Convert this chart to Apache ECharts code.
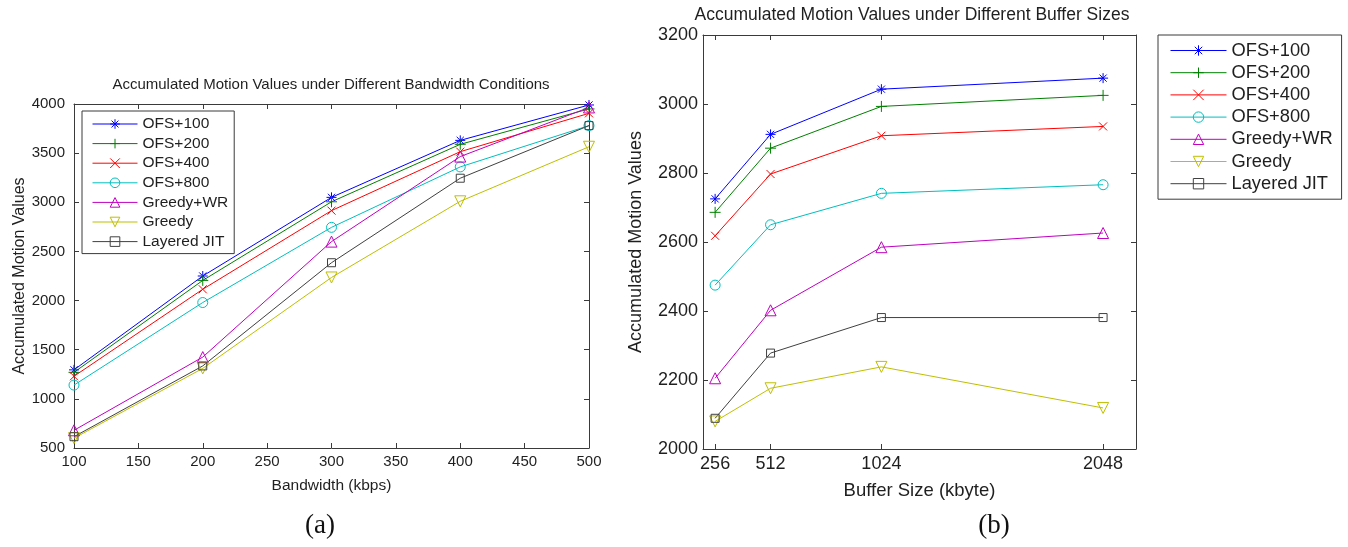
<!DOCTYPE html>
<html>
<head>
<meta charset="utf-8">
<script src="https://cdn.jsdelivr.net/npm/echarts@6/dist/echarts.min.js"></script>
<style>
  html, body { margin: 0; padding: 0; background: #ffffff; }
  #chart { width: 1348px; height: 547px; }
</style>
</head>
<body>
<div id="chart"></div>
<script>
// ---- data ----------------------------------------------------------------
const seriesNames = ['OFS+100', 'OFS+200', 'OFS+400', 'OFS+800', 'Greedy+WR', 'Greedy', 'Layered JIT'];

// (a) accumulated motion values vs. bandwidth (kbps)
const bandwidth = [100, 200, 300, 400, 500];
const bwOFS100    = [1295, 2250, 3050, 3630, 3990];
const bwOFS200    = [1270, 2205, 3005, 3590, 3950];
const bwOFS400    = [1230, 2115, 2915, 3515, 3905];
const bwOFS800    = [1140, 1980, 2745, 3360, 3780];
const bwGreedyWR  = [680, 1425, 2600, 3465, 3965];
const bwGreedy    = [600, 1310, 2235, 3010, 3565];
const bwLayered   = [615, 1335, 2385, 3245, 3780];

// (b) accumulated motion values vs. buffer size (kbyte)
const bufferSizes = [256, 512, 1024, 2048];
const bufOFS100   = [2725, 2912, 3043, 3075];
const bufOFS200   = [2686, 2872, 2993, 3025];
const bufOFS400   = [2618, 2797, 2908, 2935];
const bufOFS800   = [2475, 2650, 2741, 2766];
const bufGreedyWR = [2205, 2402, 2585, 2626];
const bufGreedy   = [2080, 2176, 2238, 2119];
const bufLayered  = [2089, 2278, 2381, 2381];

const bufferTicks = [256, 512, 1024, 2048];

// ---- styling -------------------------------------------------------------
const FONT = '"Liberation Sans", Arial, Helvetica, sans-serif';
const INK = '#1f1f1f';
const FRAME = '#3a3a3a';

const colors = ['#0000ff', '#008000', '#ff0000', '#00bfbf', '#bf00bf', '#bfbf00', '#404040'];
const symbols = [
  'path://M0,-6L0,6M-6,0L6,0M-4.3,-4.3L4.3,4.3M-4.3,4.3L4.3,-4.3', // asterisk
  'path://M0,-6L0,6M-6,0L6,0',                                       // plus
  'path://M-5,-5L5,5M-5,5L5,-5',                                     // cross
  'circle',
  'triangle',
  'path://M-5,-4.33L5,-4.33L0,4.33Z',                                // downward triangle
  'rect'
];
const symbolSizes = [10, 11, 8, 10, 11, 11, 8];

const bwValues = [bwOFS100, bwOFS200, bwOFS400, bwOFS800, bwGreedyWR, bwGreedy, bwLayered];
const bufValues = [bufOFS100, bufOFS200, bufOFS400, bufOFS800, bufGreedyWR, bufGreedy, bufLayered];

function makeSeries(xs, values, axisIndex) {
  return seriesNames.map((name, k) => ({
    name: name,
    type: 'line',
    xAxisIndex: axisIndex,
    yAxisIndex: axisIndex,
    data: xs.map((x, i) => [x, values[k][i]]),
    symbol: symbols[k],
    symbolSize: symbolSizes[k],
    showAllSymbol: true,
    clip: false,
    silent: true,
    lineStyle: { color: colors[k], width: 1 },
    itemStyle: { color: 'none', borderColor: colors[k], borderWidth: 1 },
    emphasis: { disabled: true }
  }));
}

function frameAxis(base, extra) {
  return Object.assign({
    axisLine: { show: true, onZero: false, lineStyle: { color: FRAME, width: 1 } },
    axisTick: { show: true, inside: true, length: 5, lineStyle: { color: FRAME, width: 1 } },
    splitLine: { show: false },
    axisLabel: { show: false }
  }, base, extra);
}

const plain = v => String(v);
const labelStyleA = { show: true, color: INK, fontFamily: FONT, fontSize: 15, formatter: plain };
const labelStyleB = { show: true, color: INK, fontFamily: FONT, fontSize: 18, formatter: plain };

const chart = echarts.init(document.getElementById('chart'), null, { renderer: 'canvas' });

const option = {
  animation: false,
  backgroundColor: '#ffffff',
  grid: [
    { left: 74, top: 104, width: 515, height: 344 },
    { left: 703, top: 35, width: 433, height: 414 }
  ],
  xAxis: [
    frameAxis({ type: 'value', gridIndex: 0, position: 'bottom', min: 100, max: 500, interval: 50 }, {
      axisLabel: Object.assign({ margin: 6 }, labelStyleA),
      name: 'Bandwidth (kbps)', nameLocation: 'middle', nameGap: 30,
      nameTextStyle: { color: INK, fontFamily: FONT, fontSize: 15.5 }
    }),
    frameAxis({ type: 'value', gridIndex: 0, position: 'top', min: 100, max: 500, interval: 50 }),
    frameAxis({ type: 'value', gridIndex: 1, position: 'bottom', min: 200, max: 2200 }, {
      axisTick: { show: true, inside: true, length: 5, customValues: bufferTicks, lineStyle: { color: FRAME, width: 1 } },
      axisLabel: Object.assign({ margin: 6, customValues: bufferTicks }, labelStyleB),
      name: 'Buffer Size (kbyte)', nameLocation: 'middle', nameGap: 32,
      nameTextStyle: { color: INK, fontFamily: FONT, fontSize: 18.5 }
    }),
    frameAxis({ type: 'value', gridIndex: 1, position: 'top', min: 200, max: 2200 }, {
      axisTick: { show: true, inside: true, length: 5, customValues: bufferTicks, lineStyle: { color: FRAME, width: 1 } }
    })
  ],
  yAxis: [
    frameAxis({ type: 'value', gridIndex: 0, position: 'left', min: 500, max: 4000, interval: 500 }, {
      axisLabel: Object.assign({ margin: 9 }, labelStyleA),
      name: 'Accumulated Motion Values', nameLocation: 'middle', nameGap: 46,
      nameTextStyle: { color: INK, fontFamily: FONT, fontSize: 16 }
    }),
    frameAxis({ type: 'value', gridIndex: 0, position: 'right', min: 500, max: 4000, interval: 500 }),
    frameAxis({ type: 'value', gridIndex: 1, position: 'left', min: 2000, max: 3200, interval: 200 }, {
      axisLabel: Object.assign({ margin: 5 }, labelStyleB),
      name: 'Accumulated Motion Values', nameLocation: 'middle', nameGap: 58,
      nameTextStyle: { color: INK, fontFamily: FONT, fontSize: 18 }
    }),
    frameAxis({ type: 'value', gridIndex: 1, position: 'right', min: 2000, max: 3200, interval: 200 })
  ],
  legend: [
    {
      data: seriesNames,
      orient: 'vertical',
      left: 82, top: 111,
      padding: [5, 6, 4, 10],
      itemWidth: 45, itemHeight: 12, itemGap: 3.6,
      backgroundColor: '#ffffff',
      borderColor: FRAME, borderWidth: 1,
      selectedMode: false,
      lineStyle: { width: 1 },
      itemStyle: { borderWidth: 1 },
      textStyle: { color: INK, fontFamily: FONT, fontSize: 15.5, lineHeight: 16 }
    },
    {
      data: seriesNames,
      orient: 'vertical',
      left: 1158, top: 35,
      padding: [6, 9, 6, 12],
      itemWidth: 56, itemHeight: 13, itemGap: 3.2,
      backgroundColor: '#ffffff',
      borderColor: FRAME, borderWidth: 1,
      selectedMode: false,
      lineStyle: { width: 1 },
      itemStyle: { borderWidth: 1 },
      textStyle: { color: INK, fontFamily: FONT, fontSize: 18.3, lineHeight: 19 }
    }
  ],
  graphic: [
    {
      type: 'text', x: 331, y: 85, silent: true,
      style: { text: 'Accumulated Motion Values under Different Bandwidth Conditions',
               fill: INK, font: '15px ' + FONT, align: 'center', verticalAlign: 'middle' }
    },
    {
      type: 'text', x: 912, y: 15, silent: true,
      style: { text: 'Accumulated Motion Values under Different Buffer Sizes',
               fill: INK, font: '17.5px ' + FONT, align: 'center', verticalAlign: 'middle' }
    },
    {
      type: 'text', x: 320, y: 526, silent: true,
      style: { text: '(a)', fill: '#111111', font: '27px "Liberation Serif", "Times New Roman", serif',
               align: 'center', verticalAlign: 'middle' }
    },
    {
      type: 'text', x: 994, y: 526, silent: true,
      style: { text: '(b)', fill: '#111111', font: '27px "Liberation Serif", "Times New Roman", serif',
               align: 'center', verticalAlign: 'middle' }
    }
  ],
  series: makeSeries(bandwidth, bwValues, 0).concat(makeSeries(bufferSizes, bufValues, 2))
};

chart.setOption(option);
</script>
</body>
</html>
